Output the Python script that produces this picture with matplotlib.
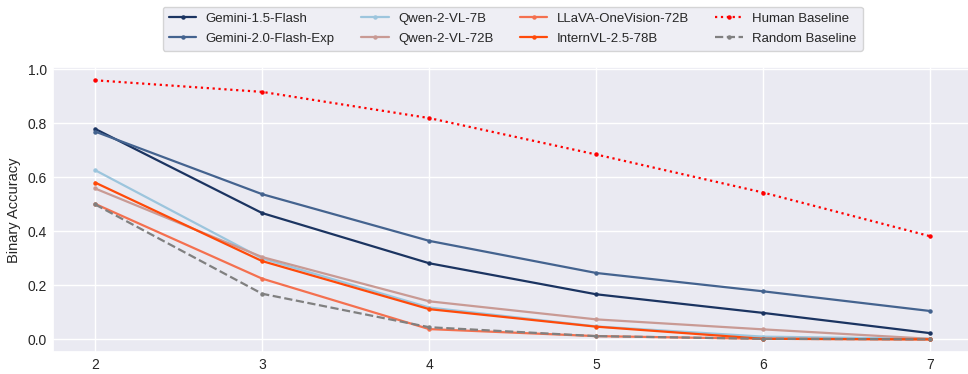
import matplotlib
matplotlib.use("Agg")
import matplotlib.pyplot as plt
import seaborn as sns

# number of items on x, binary accuracy per model
x_vals = [2, 3, 4, 5, 6, 7]

gemini_15_flash = [0.780, 0.468, 0.282, 0.167, 0.098, 0.023]
gemini_20_flash_exp = [0.770, 0.538, 0.365, 0.246, 0.178, 0.105]
qwen2_vl_7b = [0.627, 0.300, 0.118, 0.048, 0.010, 0.002]
qwen2_vl_72b = [0.559, 0.305, 0.141, 0.074, 0.037, 0.002]
llava_ov_72b = [0.502, 0.225, 0.038, 0.012, 0.002, 0.000]
internvl_25_78b = [0.581, 0.290, 0.112, 0.047, 0.002, 0.000]
human_baseline = [0.960, 0.917, 0.820, 0.685, 0.544, 0.382]
random_baseline = [0.500, 0.169, 0.045, 0.012, 0.002, 0.000]

sns.set_theme(style="darkgrid")
plt.rcParams["font.family"] = ["Liberation Sans", "DejaVu Sans"]

fig = plt.figure(figsize=(9.68, 3.74), dpi=100)
ax = fig.add_axes([0.0551, 0.058, 0.949, 0.762])

mk = dict(marker="o", markersize=2.2, linewidth=1.6)
ax.plot(x_vals, gemini_15_flash, color="#1b3461", label="Gemini-1.5-Flash", **mk)
ax.plot(x_vals, gemini_20_flash_exp, color="#44638f", label="Gemini-2.0-Flash-Exp", **mk)
ax.plot(x_vals, qwen2_vl_7b, color="#9cc5dd", label="Qwen-2-VL-7B", **mk)
ax.plot(x_vals, qwen2_vl_72b, color="#c99a94", label="Qwen-2-VL-72B", **mk)
ax.plot(x_vals, llava_ov_72b, color="#f4704f", label="LLaVA-OneVision-72B", **mk)
ax.plot(x_vals, internvl_25_78b, color="#ff4a0a", label="InternVL-2.5-78B", **mk)
ax.plot(x_vals, human_baseline, color="red", linestyle=":", label="Human Baseline", **mk)
ax.plot(x_vals, random_baseline, color="gray", linestyle="--", label="Random Baseline", **mk)

ax.set_xlim(1.75, 7.25)
ax.set_ylabel("Binary Accuracy", fontsize=10.5, labelpad=5)
ax.tick_params(labelsize=10, length=0)
ax.tick_params(axis="y", pad=4.5)
ax.tick_params(axis="x", pad=4)
ax.set_xticks(x_vals)

ax.legend(loc="lower center", bbox_to_anchor=(0.5, 1.034), ncol=4, fontsize=9.5,
          frameon=True, handlelength=2.1, handletextpad=0.7, columnspacing=2.0,
          borderpad=0.45, labelspacing=0.6)

fig.savefig("out.png", dpi=100)
